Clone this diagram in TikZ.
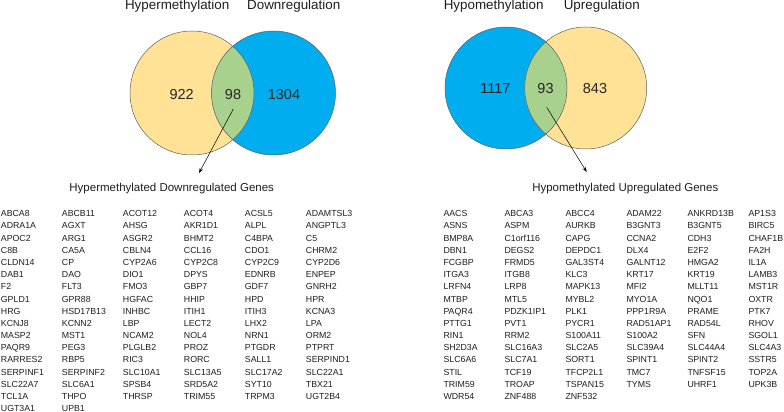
\documentclass[tikz,border=0pt]{standalone}
\usepackage{fontspec}
\setmainfont{Liberation Sans}
\usetikzlibrary{arrows.meta}
\definecolor{vyellow}{RGB}{255,226,150}
\definecolor{vblue}{RGB}{0,173,239}
\definecolor{vgreen}{RGB}{169,209,142}
\definecolor{vline}{RGB}{95,95,95}
\definecolor{vtext}{RGB}{30,30,30}
% #1 prefix, #2 x of first column, #3 row number, #4 names
\newcommand\generow[4]{%
  \foreach \g [count=\c from 0] in {#4} {%
    \node[gene] (#1-#3-\c) at ({#2+61*\c},{412-216.7-12.19*(#3-1)}) {\g};}}
\begin{document}
\begin{tikzpicture}[x=1pt,y=1pt,
  venn/.style={circle, minimum size=#1, inner sep=0pt, outer sep=0pt},
  gene/.style={anchor=base west, inner sep=0pt, text=vtext, font=\fontsize{8.8}{10}\selectfont},
  ttl/.style={anchor=base, inner sep=0pt, text=vtext, font=\fontsize{13.4}{15}\selectfont},
  num/.style={inner sep=0pt, text=black!85, font=\fontsize{14.5}{16}\selectfont},
  sub/.style={anchor=base, inner sep=0pt, text=vtext, font=\fontsize{11.5}{13}\selectfont},
  arr/.style={-{Stealth[length=5pt,width=3.5pt]}, line width=0.5pt},
  ring/.style={draw=vline, line width=0.5pt}]
\useasboundingbox (0,0) rectangle (784,412);

% ---------- left Venn ----------
\node[venn=124pt, fill=vyellow] (yL) at (192,319) {};
\node[venn=124pt, fill=vblue] (bL) at (273.5,319) {};
\begin{scope}
  \clip (yL.center) circle[radius=62pt];
  \fill[vgreen] (bL.center) circle[radius=62pt];
\end{scope}
\draw[ring] (yL.center) circle[radius=62pt];
\draw[ring] (bL.center) circle[radius=62pt];
\node[num] (nL1) at (181.7,317.8) {922};
\node[num] (nL2) at (233,317.8) {98};
\node[num] (nL3) at (284,317.8) {1304};
\node[ttl] (tL1) at (177.2,402.7) {Hypermethylation};
\node[ttl] (tL2) at (293.7,402.7) {Downregulation};
\coordinate (aLs) at (233.3,303);
\coordinate (aLe) at (199,239);
\draw[arr] (aLs) -- (aLe);
\node[sub] (sL) at (171.7,220.3) {Hypermethylated Downregulated Genes};

% ---------- right Venn ----------
\node[venn=122pt, fill=vblue] (bR) at (506,324) {};
\node[venn=122pt, fill=vyellow] (yR) at (585.7,324) {};
\begin{scope}
  \clip (bR.center) circle[radius=61pt];
  \fill[vgreen] (yR.center) circle[radius=61pt];
\end{scope}
\draw[ring] (bR.center) circle[radius=61pt];
\draw[ring] (yR.center) circle[radius=61pt];
\node[num] (nR1) at (495.5,323) {1117};
\node[num] (nR2) at (545.5,323) {93};
\node[num] (nR3) at (595,323) {843};
\node[ttl] (tR1) at (493.7,402.7) {Hypomethylation};
\node[ttl] (tR2) at (601.8,402.7) {Upregulation};
\coordinate (aRs) at (546.7,304.7);
\coordinate (aRe) at (586.7,240);
\draw[arr] (aRs) -- (aRe);
\node[sub] (sR) at (625.3,220.3) {Hypomethylated Upregulated Genes};

% ---------- left gene list ----------
\generow{L}{0.7}{1}{ABCA8,ABCB11,ACOT12,ACOT4,ACSL5,ADAMTSL3}
\generow{L}{0.7}{2}{ADRA1A,AGXT,AHSG,AKR1D1,ALPL,ANGPTL3}
\generow{L}{0.7}{3}{APOC2,ARG1,ASGR2,BHMT2,C4BPA,C5}
\generow{L}{0.7}{4}{C8B,CA5A,CBLN4,CCL16,CDO1,CHRM2}
\generow{L}{0.7}{5}{CLDN14,CP,CYP2A6,CYP2C8,CYP2C9,CYP2D6}
\generow{L}{0.7}{6}{DAB1,DAO,DIO1,DPYS,EDNRB,ENPEP}
\generow{L}{0.7}{7}{F2,FLT3,FMO3,GBP7,GDF7,GNRH2}
\generow{L}{0.7}{8}{GPLD1,GPR88,HGFAC,HHIP,HPD,HPR}
\generow{L}{0.7}{9}{HRG,HSD17B13,INHBC,ITIH1,ITIH3,KCNA3}
\generow{L}{0.7}{10}{KCNJ8,KCNN2,LBP,LECT2,LHX2,LPA}
\generow{L}{0.7}{11}{MASP2,MST1,NCAM2,NOL4,NRN1,ORM2}
\generow{L}{0.7}{12}{PAQR9,PEG3,PLGLB2,PROZ,PTGDR,PTPRT}
\generow{L}{0.7}{13}{RARRES2,RBP5,RIC3,RORC,SALL1,SERPIND1}
\generow{L}{0.7}{14}{SERPINF1,SERPINF2,SLC10A1,SLC13A5,SLC17A2,SLC22A1}
\generow{L}{0.7}{15}{SLC22A7,SLC6A1,SPSB4,SRD5A2,SYT10,TBX21}
\generow{L}{0.7}{16}{TCL1A,THPO,THRSP,TRIM55,TRPM3,UGT2B4}
\generow{L}{0.7}{17}{UGT3A1,UPB1}

% ---------- right gene list ----------
\generow{R}{443.3}{1}{AACS,ABCA3,ABCC4,ADAM22,ANKRD13B,AP1S3}
\generow{R}{443.3}{2}{ASNS,ASPM,AURKB,B3GNT3,B3GNT5,BIRC5}
\generow{R}{443.3}{3}{BMP8A,C1orf116,CAPG,CCNA2,CDH3,CHAF1B}
\generow{R}{443.3}{4}{DBN1,DEGS2,DEPDC1,DLX4,E2F2,FA2H}
\generow{R}{443.3}{5}{FCGBP,FRMD5,GAL3ST4,GALNT12,HMGA2,IL1A}
\generow{R}{443.3}{6}{ITGA3,ITGB8,KLC3,KRT17,KRT19,LAMB3}
\generow{R}{443.3}{7}{LRFN4,LRP8,MAPK13,MFI2,MLLT11,MST1R}
\generow{R}{443.3}{8}{MTBP,MTL5,MYBL2,MYO1A,NQO1,OXTR}
\generow{R}{443.3}{9}{PAQR4,PDZK1IP1,PLK1,PPP1R9A,PRAME,PTK7}
\generow{R}{443.3}{10}{PTTG1,PVT1,PYCR1,RAD51AP1,RAD54L,RHOV}
\generow{R}{443.3}{11}{RIN1,RRM2,S100A11,S100A2,SFN,SGOL1}
\generow{R}{443.3}{12}{SH2D3A,SLC16A3,SLC2A5,SLC39A4,SLC44A4,SLC4A3}
\generow{R}{443.3}{13}{SLC6A6,SLC7A1,SORT1,SPINT1,SPINT2,SSTR5}
\generow{R}{443.3}{14}{STIL,TCF19,TFCP2L1,TMC7,TNFSF15,TOP2A}
\generow{R}{443.3}{15}{TRIM59,TROAP,TSPAN15,TYMS,UHRF1,UPK3B}
\generow{R}{443.3}{16}{WDR54,ZNF488,ZNF532}
\end{tikzpicture}
\end{document}
